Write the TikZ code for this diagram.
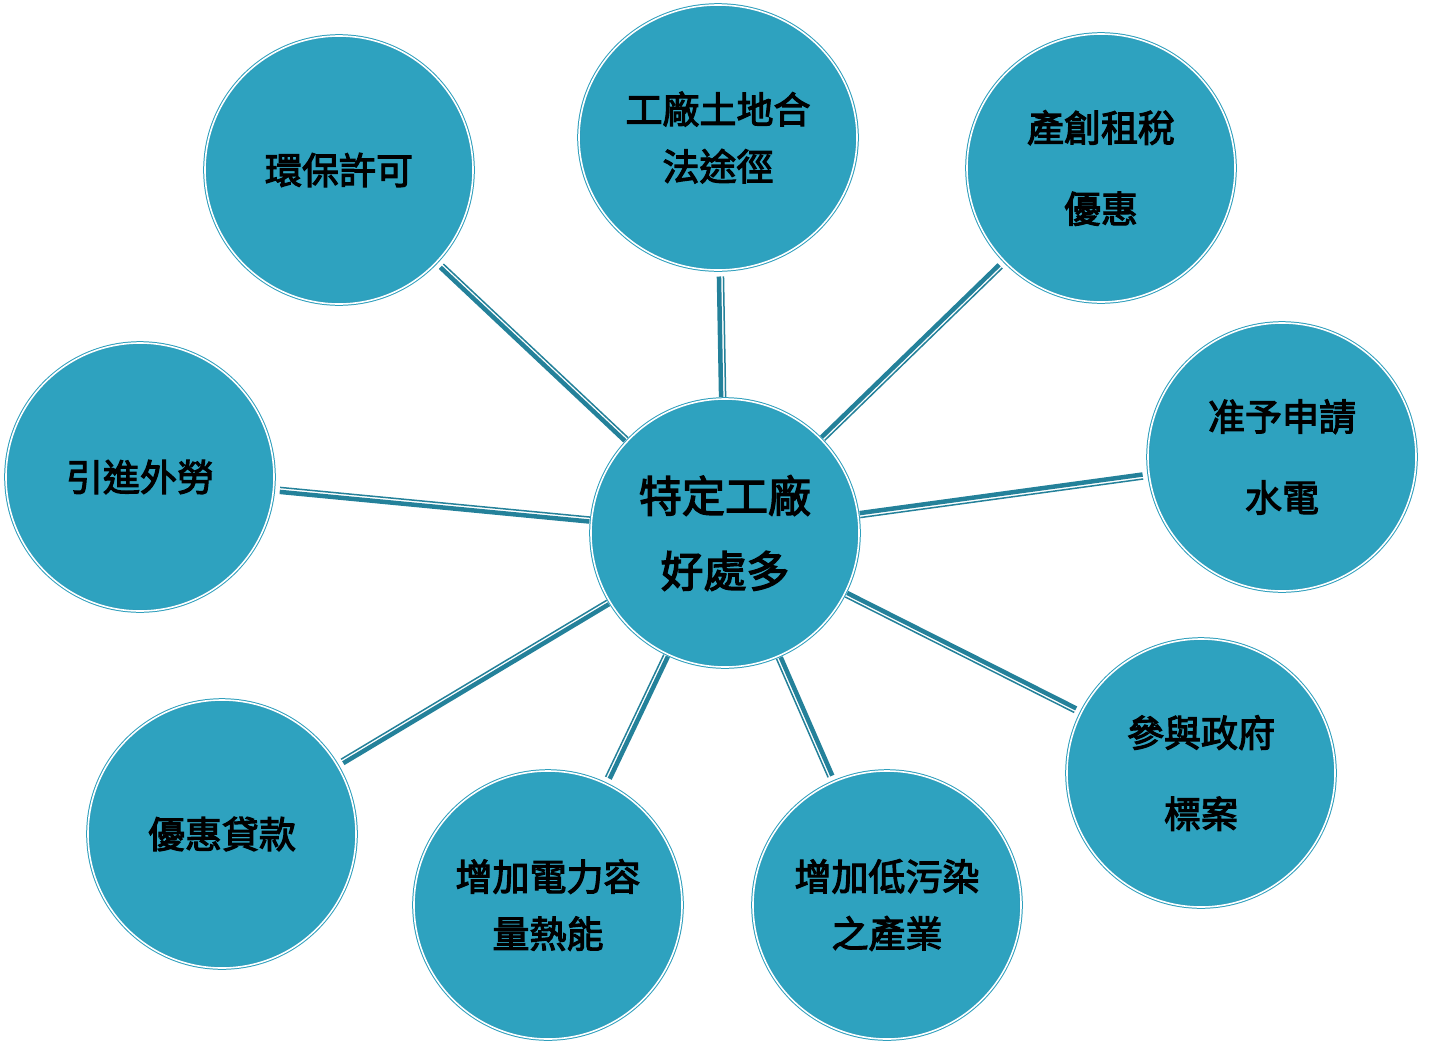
\documentclass[tikz,border=0pt]{standalone}
\usepackage{fontspec}
\newfontfamily\cjk{Noto Sans CJK TC}[RawFeature={embolden=3}]
\usetikzlibrary{shapes.geometric}
\definecolor{fillc}{HTML}{2EA2BF}
\definecolor{ringc}{HTML}{2E9EBC}
\definecolor{linec}{HTML}{24819A}
\tikzset{
  sat/.style={circle, minimum size=134pt, inner sep=0pt, fill=fillc, draw=ringc,
    double=white, double distance=0.8pt, line width=0.5pt, align=center,
    font=\cjk\fontsize{18.5}{28.5}\selectfont},
  widepitch/.style={font=\cjk\fontsize{18.5}{40.5}\selectfont},
  thickline/.style={draw=linec, line width=2.25pt, shorten <=0.8pt, shorten >=3pt},
  thinline/.style={draw=linec, line width=0.75pt, shorten <=0.8pt, shorten >=3pt},
}
\newcommand\conn[2]{%
  \draw[thickline, transform canvas={shift={(#1+90:0.75pt)}}] (c) -- (#2);
  \draw[thinline, transform canvas={shift={(#1-90:1.5pt)}}] (c) -- (#2);}
\begin{document}
\begin{tikzpicture}[x=0.5pt, y=-0.5pt]
\useasboundingbox (0,0) rectangle (1446,1045);
\node[sat, font=\cjk\fontsize{21.5}{37.5}\selectfont] (c) at (725,533) {特定工廠\\好處多};
\node[sat] (s1) at (339,170) {環保許可};
\node[sat, ellipse, minimum width=139pt, minimum height=132.5pt] (s2) at (718,137.5) {工廠土地合\\法途徑};
\node[sat, widepitch] (s3) at (1101,168) {產創租稅\\優惠};
\node[sat, widepitch] (s4) at (1282,457) {准予申請\\水電};
\node[sat, widepitch] (s5) at (1201,773) {參與政府\\標案};
\node[sat] (s6) at (887,905) {增加低污染\\之產業};
\node[sat] (s7) at (548,905) {增加電力容\\量熱能};
\node[sat] (s8) at (222,834) {優惠貸款};
\node[sat] (s9) at (140,477) {引進外勞};
\conn{136.8}{s1}
\conn{91}{s2}
\conn{44.2}{s3}
\conn{7.8}{s4}
\conn{-26.8}{s5}
\conn{-66.5}{s6}
\conn{-115.4}{s7}
\conn{-149.1}{s8}
\conn{174.5}{s9}
\end{tikzpicture}
\end{document}
